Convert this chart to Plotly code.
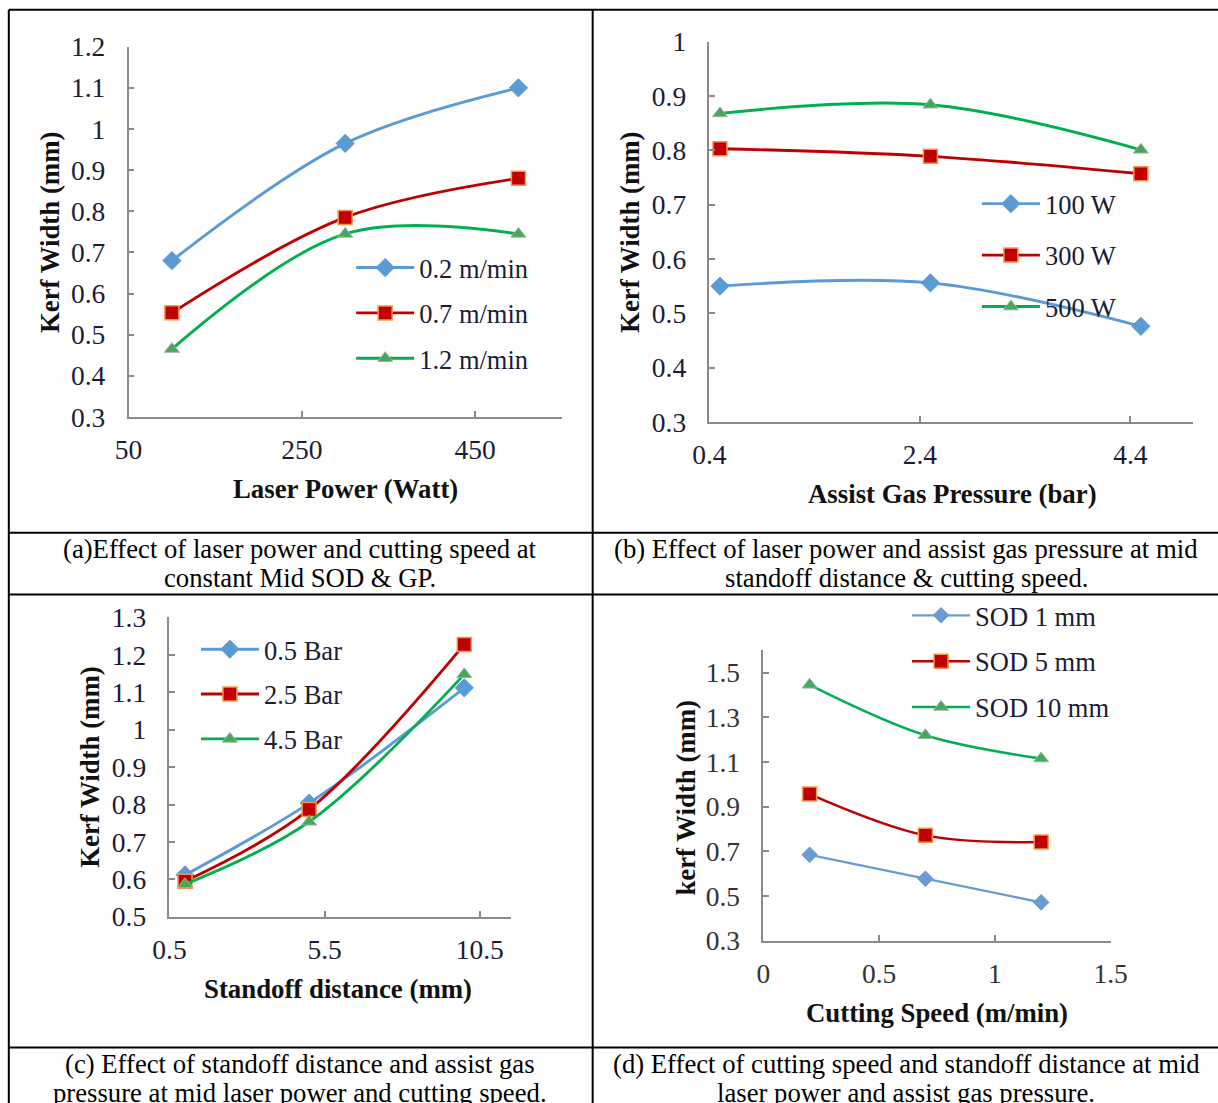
import plotly.graph_objects as go

W, H = 1218, 1103

# ---------------- data ----------------
# (a) laser power vs kerf width, by cutting speed
power_w = [100, 300, 500]
kerf_a_02 = [0.68, 0.965, 1.10]
kerf_a_07 = [0.553, 0.785, 0.88]
kerf_a_12 = [0.465, 0.745, 0.745]
names_a = ["0.2 m/min", "0.7 m/min", "1.2 m/min"]

# (b) assist gas pressure vs kerf width, by laser power
pressure_bar = [0.5, 2.5, 4.5]
kerf_b_100 = [0.55, 0.556, 0.476]
kerf_b_300 = [0.803, 0.789, 0.757]
kerf_b_500 = [0.868, 0.884, 0.801]
names_b = ["100 W", "300 W", "500 W"]

# (c) standoff distance vs kerf width, by gas pressure
sod_mm = [1, 5, 10]
kerf_c_05 = [0.612, 0.804, 1.112]
kerf_c_25 = [0.595, 0.787, 1.228]
kerf_c_45 = [0.587, 0.754, 1.148]
names_c = ["0.5 Bar", "2.5 Bar", "4.5 Bar"]

# (d) cutting speed vs kerf width, by SOD
speed_mpm = [0.2, 0.7, 1.2]
kerf_d_1 = [0.685, 0.578, 0.472]
kerf_d_5 = [0.957, 0.772, 0.742]
kerf_d_10 = [1.446, 1.220, 1.116]
names_d = ["SOD 1 mm", "SOD 5 mm", "SOD 10 mm"]

captions = {
    "a": ["(a)Effect of laser power and cutting speed at", "constant Mid SOD & GP."],
    "b": ["(b) Effect of laser power and assist gas pressure at mid", "standoff distance & cutting speed."],
    "c": ["(c) Effect of standoff distance and assist gas", "pressure at mid laser power and cutting speed."],
    "d": ["(d) Effect of cutting speed and standoff distance at mid", "laser power and assist gas pressure."],
}

# ---------------- styles ----------------
SERIF = "Liberation Serif"
BLUE = "#5b9bd5"
RED = "#c00000"
GREEN = "#00b050"
TICKC = "#1c1c36"

# screen-pixel -> paper mapping (the page is photographed with a small padding)
K, OX, OY = 0.974, 16.2, 13.2


def px(s):
    return ((s - OX) / K) / W


def py(s):
    return 1 - ((s - OY) / K) / H


def style_blue(size=13, lw=2.8, color=BLUE):
    return dict(line=dict(color=color, width=lw, shape="spline"),
                marker=dict(symbol="diamond", size=size, color=color,
                            line=dict(color=color, width=1)))


def style_red(size=13, lw=2.8):
    return dict(line=dict(color=RED, width=lw, shape="spline"),
                marker=dict(symbol="square", size=size, color=RED,
                            line=dict(color="#f79646", width=1.5)))


def style_green(size=13, lw=2.8):
    return dict(line=dict(color=GREEN, width=lw, shape="spline"),
                marker=dict(symbol="triangle-up", size=size, color="#45a85c",
                            line=dict(color="#9ab59a", width=1)))


fig = go.Figure()

panels = [
    ("a", power_w, [kerf_a_02, kerf_a_07, kerf_a_12], names_a, "", "legend"),
    ("b", pressure_bar, [kerf_b_100, kerf_b_300, kerf_b_500], names_b, "2", "legend2"),
    ("c", sod_mm, [kerf_c_05, kerf_c_25, kerf_c_45], names_c, "3", "legend3"),
    ("d", speed_mpm, [kerf_d_1, kerf_d_5, kerf_d_10], names_d, "4", "legend4"),
]

for key, xs, series, names, sfx, leg in panels:
    if key == "d":
        styles = [style_blue(12, 2.3, "#6a9bd3"), style_red(14, 2.5), style_green(13, 2.5)]
    else:
        styles = [style_blue(14, 2.9), style_red(14, 2.9), style_green(13, 2.9)]
    for i, (ys, nm, st) in enumerate(zip(series, names, styles)):
        fig.add_trace(go.Scatter(
            x=xs, y=ys, name=nm, mode="lines+markers",
            xaxis="x" + sfx, yaxis="y" + sfx,
            legend=leg, legendgroup=key + str(i),
            **st))

axis_common = dict(showline=True, linecolor="#8a8a8a", linewidth=1.5,
                   showgrid=False, zeroline=False, ticks="inside",
                   ticklen=6, tickcolor="#8a8a8a", tickwidth=1.5)

# plot boxes in screen pixels: (x0, x1, ytop, ybottom)
boxes = {
    "a": (128, 562, 45, 416),
    "b": (710, 1195, 40, 421),
    "c": (169, 511, 617, 917),
    "d": (764, 1112, 650, 941),
}

layout = dict(width=W, height=H, margin=dict(l=0, r=0, t=0, b=0, pad=0),
              paper_bgcolor="white", plot_bgcolor="white", showlegend=True)

TICKSZ = 27.5


def set_axes(key, sfx, xr, yr, xticks, yticks, xfmt=None, yfmt=None, tick_color=TICKC):
    x0, x1, yt, yb = boxes[key]
    xa = dict(axis_common, domain=[px(x0), px(x1)], range=xr, tickvals=xticks,
              anchor="y" + sfx, ticklabelstandoff=7)
    ya = dict(axis_common, domain=[py(yb), py(yt)], range=yr, tickvals=yticks,
              anchor="x" + sfx, ticklabelstandoff=16)
    xa["tickfont"] = dict(family=SERIF, size=TICKSZ, color=tick_color)
    ya["tickfont"] = dict(family=SERIF, size=TICKSZ, color=tick_color)
    if xfmt:
        xa["ticktext"] = xfmt
    if yfmt:
        ya["ticktext"] = yfmt
    layout["xaxis" + sfx] = xa
    layout["yaxis" + sfx] = ya


set_axes("a", "", [50, 550], [0.3, 1.2], [50, 250, 450],
         [0.3, 0.4, 0.5, 0.6, 0.7, 0.8, 0.9, 1.0, 1.1, 1.2],
         yfmt=["0.3", "0.4", "0.5", "0.6", "0.7", "0.8", "0.9", "1", "1.1", "1.2"])
set_axes("b", "2", [0.4, 5.0], [0.3, 1.0], [0.4, 2.4, 4.4],
         [0.3, 0.4, 0.5, 0.6, 0.7, 0.8, 0.9, 1.0],
         yfmt=["0.3", "0.4", "0.5", "0.6", "0.7", "0.8", "0.9", "1"])
set_axes("c", "3", [0.5, 11.5], [0.5, 1.3], [0.5, 5.5, 10.5],
         [0.5, 0.6, 0.7, 0.8, 0.9, 1.0, 1.1, 1.2, 1.3],
         yfmt=["0.5", "0.6", "0.7", "0.8", "0.9", "1", "1.1", "1.2", "1.3"])
set_axes("d", "4", [0, 1.5], [0.3, 1.6], [0, 0.5, 1.0, 1.5],
         [0.3, 0.5, 0.7, 0.9, 1.1, 1.3, 1.5],
         xfmt=["0", "0.5", "1", "1.5"], tick_color="#333333")

leg_font = dict(family=SERIF, size=26.5, color=TICKC)
ITEMW = 58
# legend left/top in screen pixels, group gap
legend_pos = {
    "legend": (351, 242.5, 7.9),
    "legend2": (978, 178.5, 14.0),
    "legend3": (195.5, 625, 7.4),
    "legend4": (908, 591, 8.4),
}
for lk, (lx, ly, gap) in legend_pos.items():
    layout[lk] = dict(x=px(lx), y=py(ly), xanchor="left", yanchor="top",
                      bgcolor="rgba(0,0,0,0)", font=leg_font, itemwidth=ITEMW,
                      traceorder="grouped", tracegroupgap=gap)

annotations = []
titles = [
    ("Kerf Width (mm)", 50, 231, -90),
    ("Laser Power (Watt)", 345, 488, 0),
    ("Kerf Width (mm)", 631, 231, -90),
    ("Assist Gas Pressure (bar)", 954, 493, 0),
    ("Kerf Width (mm)", 90, 767, -90),
    ("Standoff distance (mm)", 338, 989, 0),
    ("kerf Width (mm)", 687, 797, -90),
    ("Cutting Speed (m/min)", 938, 1013, 0),
]
for t, x, y, ang in titles:
    annotations.append(dict(text="<b>" + t + "</b>", x=px(x), y=py(y), xref="paper", yref="paper",
                            xanchor="center", yanchor="middle", showarrow=False, textangle=ang,
                            font=dict(family=SERIF, size=26.8, color="#111111")))

cap_pos = {"a": (300, 548), "b": (907, 548), "c": (300, 1064), "d": (907, 1064)}
for k, (cx, cy) in cap_pos.items():
    for j, line in enumerate(captions[k]):
        annotations.append(dict(text=line, x=px(cx), y=py(cy + 29.5 * j), xref="paper", yref="paper",
                                xanchor="center", yanchor="middle", showarrow=False,
                                font=dict(family=SERIF, size=26.7, color="#000000")))
layout["annotations"] = annotations

shapes = []


def hline(s_y, s_x0=8, s_x1=1240):
    y = py(s_y)
    shapes.append(dict(type="line", xref="paper", yref="paper", x0=px(s_x0), x1=px(s_x1),
                       y0=y, y1=y, line=dict(color="black", width=2)))


def vline(s_x, s_y0=8, s_y1=1120):
    x = px(s_x)
    shapes.append(dict(type="line", xref="paper", yref="paper", x0=x, x1=x,
                       y0=py(s_y0), y1=py(s_y1), line=dict(color="black", width=2)))


for yy in [8, 532, 594, 1048]:
    hline(yy)
vline(8)
vline(593)
layout["shapes"] = shapes

fig.update_layout(**layout)
fig.write_html("out.html", config={"displayModeBar": False},
               post_script="document.documentElement.style.margin='0';document.body.style.margin='0';"
                           "document.body.style.padding='0';document.body.style.overflow='hidden';")
